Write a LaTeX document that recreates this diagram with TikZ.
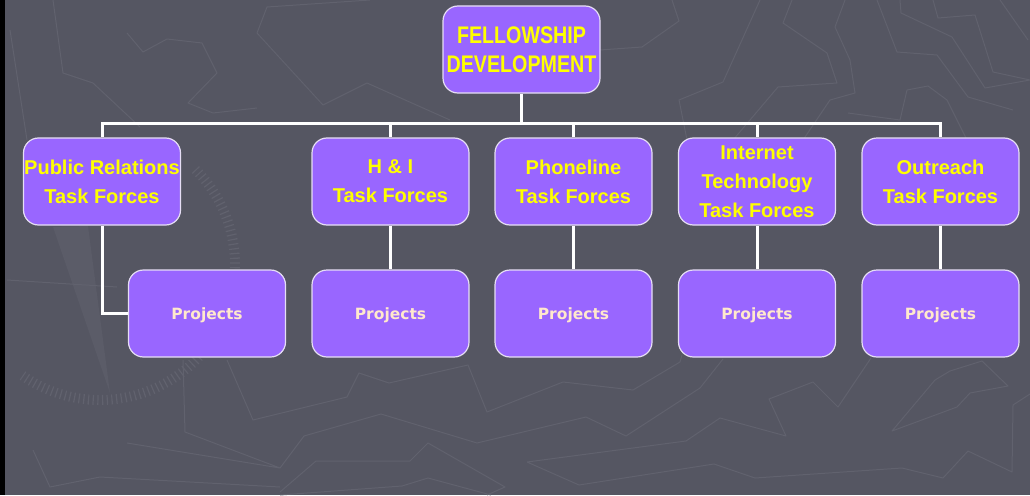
\documentclass[tikz,border=0pt]{standalone}
\usepackage{fontspec}
\setmainfont{Liberation Sans}
\newfontfamily\projfont{DejaVu Sans}
\newfontfamily\narrowfont[FakeStretch=0.82]{Liberation Sans}
\definecolor{slate}{HTML}{555662}
\definecolor{mapline}{HTML}{61626E}
\definecolor{needle}{HTML}{5B5C68}
\definecolor{boxfill}{HTML}{9966FF}
\definecolor{boxedge}{HTML}{E6DEF5}
\definecolor{tfyellow}{HTML}{FFFF00}
\definecolor{projtext}{HTML}{FFE8CC}

\begin{document}
\begin{tikzpicture}[x=1pt,y=-1pt,
	box/.style={shape=rectangle,rounded corners=15pt,fill=boxfill,draw=boxedge,line width=1.2pt,minimum width=157pt,minimum height=87pt,inner sep=0pt,align=center},
	tf/.style={box,text=tfyellow,font=\fontsize{20}{29}\selectfont\bfseries},
	proj/.style={box,text=projtext,text depth=0pt,font=\projfont\fontsize{15.5}{18}\selectfont\bfseries},
	link/.style={-,line width=3pt,white},
	map/.style={mapline,line width=1pt,line join=round},
	ticks/.style={mapline,line width=10pt,dash pattern=on 1.2pt off 3.5pt}]
		\useasboundingbox (0,0) rectangle (1030,495);
		\fill[slate] (0,0) rectangle (1030,495);
		\fill[black] (0,0) rectangle (5,495);
		
		% map in the background
		\fill[needle] (53,227) -- (88,226) -- (110,393) -- cycle;
		\draw[ticks] (100,265) ++(-45:135) arc[start angle=-45,end angle=125,radius=135];
		\draw[map] (127,33) -- (143,52) -- (167,39) -- (202,43) -- (217,73) -- (188,103) -- (213,113) -- (257,108)
			(257,33) -- (267,7) -- (370,0)
			(257,33) -- (323,105) -- (367,83) -- (450,120)
			(53,0) -- (63,73) -- (93,83) -- (140,127)
			(10,30) -- (27,140)
			(7,280) -- (117,287)
			(33,450) -- (50,487) -- (100,477) -- (280,487)
			(127,443) -- (280,468) -- (304,436) -- (381,414) -- (477,443) -- (586,417) -- (626,436) -- (700,388) -- (723,359)
			(183,360) -- (185,432) -- (280,468)
			(227,360) -- (253,420) -- (347,397) -- (359,373) -- (389,383) -- (468,365) -- (487,412) -- (563,382) -- (633,390) -- (680,362) -- (682,355)
			(280,492) -- (316,461) -- (410,461) -- (428,443) -- (505,487) -- (487,495)
			(280,495) -- (402,486) -- (428,478) -- (491,495)
			(527,462) -- (686,441) -- (720,418) -- (786,436) -- (769,399) -- (813,382) -- (838,407) -- (871,358)
			(527,462) -- (579,485) -- (714,464) -- (755,478) -- (902,468) -- (943,478) -- (968,451) -- (1012,472) -- (1013,405) -- (1030,394)
			(892,431) -- (935,380) -- (950,371) -- (982,361) -- (1008,386) -- (970,393) -- (957,407) -- cycle
			(600,50) -- (642,47) -- (679,21) -- (672,0)
			(760,0) -- (723,82) -- (679,100) -- (687,140)
			(792,0) -- (783,23) -- (827,53) -- (837,83) -- (778,87) -- (733,140)
			(845,0) -- (835,27) -- (850,60) -- (855,93) -- (830,100) -- (803,140)
			(877,0) -- (897,52) -- (937,55) -- (968,97) -- (1013,110)
			(900,0) -- (901,13) -- (952,37) -- (985,88) -- (1030,80)
			(933,0) -- (938,18) -- (975,15) -- (993,72) -- (1030,80)
			(1000,0) -- (1028,40)
			(907,90) -- (928,86) -- (947,100) -- (967,140)
			(848,113) -- (900,120) -- (907,90);
		
		\node[box,text=tfyellow,font=\narrowfont\fontsize{24}{29}\selectfont\bfseries] (FD) at (521.5,49.5) {FELLOWSHIP\\DEVELOPMENT};
		
		\node[tf] (PR) at (102,181.5) {Public Relations\\Task Forces};
		\node[tf] (HI) at (390.5,181.5) {H \& I\\Task Forces};
		\node[tf] (PH) at (573.5,181.5) {Phoneline\\Task Forces};
		\node[tf] (IT) at (757,181.5) {Internet\\Technology\\Task Forces};
		\node[tf] (OR) at (940.5,181.5) {Outreach\\Task Forces};
		
		\node[proj] (P1) at (207,313.5) {Projects};
		\node[proj] (P2) at (390.5,313.5) {Projects};
		\node[proj] (P3) at (573.5,313.5) {Projects};
		\node[proj] (P4) at (757,313.5) {Projects};
		\node[proj] (P5) at (940.5,313.5) {Projects};
		
		\coordinate (bus) at (0,123);
		\draw[link] (FD.south) -- (FD.south |- bus);
		\draw[link] (PR.north) |- (bus -| OR.north) -- (OR.north);
		\draw[link] (bus -| HI.north) -- (HI.north);
		\draw[link] (bus -| PH.north) -- (PH.north);
		\draw[link] (bus -| IT.north) -- (IT.north);
		
		\draw[link] (PR.south) |- (P1.west);
		\path[link] (HI) edge (P2);
		\path[link] (PH) edge (P3);
		\path[link] (IT) edge (P4);
		\path[link] (OR) edge (P5);
		\end{tikzpicture}
\end{document}
